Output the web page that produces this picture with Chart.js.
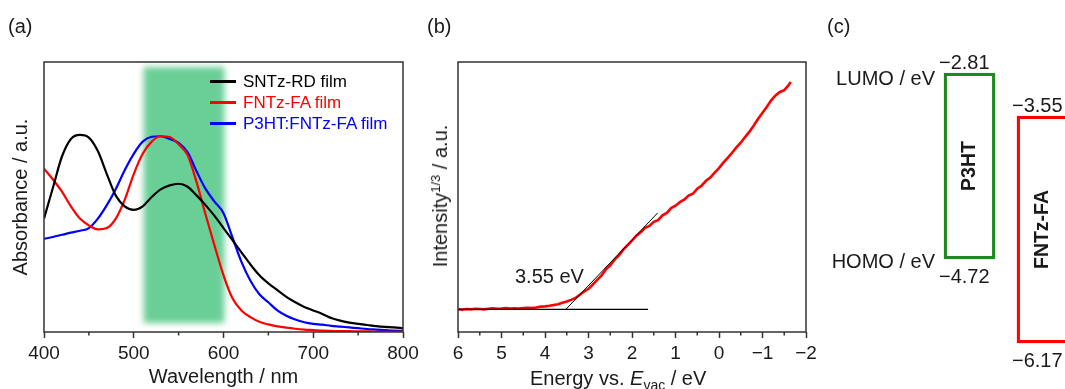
<!DOCTYPE html>
<html>
<head>
<meta charset="utf-8">
<script src="https://cdn.jsdelivr.net/npm/chart.js@4.4.1/dist/chart.umd.min.js"></script>
<style>
html, body { margin: 0; padding: 0; background: #fff; overflow: hidden; width: 1065px; height: 389px; }
body { position: relative; font-family: "Liberation Sans", Arial, sans-serif; color: #1a1a1a; }
canvas { position: absolute; top: 0; }
.txt { position: absolute; font-size: 20px; line-height: 20px; white-space: nowrap; }
.rot { transform: translate(-50%, -50%) rotate(-90deg); }
sup { font-size: 13px; line-height: 0; vertical-align: 7px; }
sub { font-size: 14px; line-height: 0; vertical-align: -5px; }
#legendA { position: absolute; left: 210px; top: 71px; font-size: 17px; }
#legendA div { height: 21px; display: flex; align-items: center; white-space: nowrap; }
#legendA span.sw { display: inline-block; width: 26px; height: 3px; margin-right: 7px; }
</style>
</head>
<body>
<canvas id="chartA" width="430" height="389" style="left:0px"></canvas>
<canvas id="chartB" width="420" height="389" style="left:410px"></canvas>
<canvas id="chartC" width="290" height="389" style="left:806px"></canvas>

<div class="txt" style="left:8px; top:16px">(a)</div>
<div class="txt" style="left:427px; top:16px">(b)</div>
<div class="txt" style="left:827px; top:16px">(c)</div>
<div id="legendA"></div>
<div class="txt rot" style="left:440px; top:196px">Intensity<sup>1/3</sup> / a.u.</div>
<div class="txt" style="left:530px; top:368px">Energy vs. <i>E</i><sub>vac</sub> / eV</div>
<div class="txt" style="left:515px; top:266px">3.55 eV</div>

<script>
"use strict";

/* (a) absorption spectra, normalised */
const wavelength = [400,410,420,430,440,450,460,470,480,490,500,510,520,530,540,550,560,570,580,590,
                    600,610,620,630,640,650,660,670,680,690,700,710,720,730,740,750,760,770,780,790,800];
const absSNTz = [0.42,0.535,0.65,0.715,0.73,0.72,0.67,0.585,0.505,0.465,0.452,0.465,0.50,0.528,0.543,0.549,0.538,0.506,0.47,0.43,
                 0.385,0.34,0.295,0.25,0.21,0.18,0.155,0.13,0.11,0.093,0.08,0.067,0.052,0.042,0.035,0.03,0.026,0.022,0.019,0.017,0.014];
const absFNTz = [0.605,0.565,0.52,0.465,0.42,0.395,0.38,0.385,0.42,0.49,0.585,0.66,0.705,0.725,0.722,0.695,0.655,0.555,0.435,0.32,
                 0.21,0.125,0.08,0.055,0.038,0.028,0.021,0.016,0.012,0.009,0.007,0.005,0.004,0.003,0.003,0.002,0.002,0.001,0.001,0.001,0.001];
const absBlend = [0.345,0.352,0.36,0.368,0.375,0.385,0.42,0.47,0.53,0.60,0.66,0.705,0.723,0.725,0.715,0.70,0.665,0.595,0.53,0.483,
                  0.44,0.35,0.26,0.19,0.14,0.11,0.08,0.06,0.046,0.036,0.03,0.027,0.023,0.02,0.017,0.014,0.011,0.009,0.007,0.005,0.004];
const seriesNames = ["SNTz-RD film", "FNTz-FA film", "P3HT:FNTz-FA film"];
const seriesColors = ["#000000", "#ff0000", "#0000ff"];
const bandRange = [511, 601];   // nm, shaded region

/* (b) photoelectron yield spectrum */
const energyEV = [6.0,5.9,5.8,5.7,5.6,5.5,5.4,5.3,5.2,5.1,5.0,4.9,4.8,4.7,4.6,4.5,4.4,4.3,4.2,4.1,
                  4.0,3.9,3.8,3.7,3.6,3.5,3.4,3.3,3.2,3.1,3.0,2.9,2.8,2.7,2.6,2.5,2.4,2.3,2.2,2.1,
                  2.0,1.9,1.8,1.7,1.6,1.5,1.4,1.3,1.2,1.1,1.0,0.9,0.8,0.7,0.6,0.5,0.4,0.3,0.2,0.1,
                  0.0,-0.1,-0.2,-0.3,-0.4,-0.5,-0.6,-0.7,-0.8,-0.9,-1.0,-1.1,-1.2,-1.3,-1.4,-1.5,-1.6,-1.65];
const intensity = [0.084,0.083,0.085,0.084,0.086,0.085,0.084,0.086,0.088,0.086,0.087,0.089,0.087,0.088,0.087,0.089,0.090,0.089,0.091,0.094,
                   0.095,0.097,0.100,0.103,0.108,0.113,0.119,0.126,0.138,0.150,0.160,0.176,0.193,0.210,0.232,0.247,0.268,0.284,0.305,0.322,
                   0.338,0.357,0.369,0.386,0.393,0.408,0.414,0.432,0.441,0.459,0.468,0.481,0.490,0.505,0.512,0.531,0.542,0.560,0.572,0.590,
                   0.607,0.627,0.645,0.664,0.684,0.701,0.722,0.742,0.765,0.790,0.812,0.834,0.858,0.876,0.889,0.896,0.914,0.926];
const baselineE = [6.0, 1.63];
const baselineI = [0.084, 0.084];
const tangentE = [3.52, 1.41];
const tangentI = [0.084, 0.441];

/* (c) energy levels */
const materials = ["P3HT", "FNTz-FA"];
const lumo = [-2.81, -3.55];
const homo = [-4.72, -6.17];
const boxColors = ["#1c8a1c", "#ff0000"];

Chart.defaults.font.family = '"Liberation Sans", Arial, sans-serif';
Chart.defaults.color = "#1a1a1a";

const minus = v => v < 0 ? "\u2212" + Math.abs(v) : String(v);

// frame round the plot area + short minor ticks under the x axis
const frameTicks = {
    id: "frameTicks",
    afterDraw(chart, args, opts) {
        const {ctx, chartArea: a, scales: {x}} = chart;
        ctx.save();
        ctx.strokeStyle = "#333";
        ctx.lineWidth = 1.5;
        ctx.strokeRect(a.left, a.top, a.right - a.left, a.bottom - a.top);
        ctx.beginPath();
        for (let v = x.min; v <= x.max; v += opts.minor) {
            if (Math.abs(v % opts.major) < 1e-6) continue;
            const px = x.getPixelForValue(v);
            ctx.moveTo(px, a.bottom);
            ctx.lineTo(px, a.bottom + 3.5);
        }
        ctx.stroke();
        ctx.restore();
    }
};

const band = {
    id: "band",
    beforeDatasetsDraw(chart) {
        const {ctx, chartArea: a, scales: {x}} = chart;
        const x0 = x.getPixelForValue(bandRange[0]);
        const x1 = x.getPixelForValue(bandRange[1]);
        ctx.save();
        ctx.filter = "blur(3px)";
        ctx.fillStyle = "rgb(106,207,150)";
        ctx.fillRect(x0, a.top + 5, x1 - x0, a.bottom - a.top - 14);
        ctx.restore();
    }
};

const xy = (xs, ys) => xs.map((v, i) => ({x: v, y: ys[i]}));

/* panel (a) */
const absSeries = [absSNTz, absFNTz, absBlend];
new Chart(document.getElementById("chartA"), {
    type: "line",
    data: {
        datasets: absSeries.map((s, i) => ({
            label: seriesNames[i],
            data: xy(wavelength, s),
            borderColor: seriesColors[i],
            borderWidth: 2.2,
            pointRadius: 0,
            cubicInterpolationMode: "monotone"
        }))
    },
    options: {
        responsive: false, animation: false, devicePixelRatio: 1,
        layout: {padding: {top: 62, right: 27, left: 0, bottom: 0}},
        plugins: {legend: {display: false}, tooltip: {enabled: false}, frameTicks: {minor: 50, major: 100}},
        scales: {
            x: {
                type: "linear", min: 400, max: 800,
                afterFit: s => { s.height = 57; },
                ticks: {stepSize: 100, padding: 4, font: {size: 19}, maxRotation: 0, autoSkip: false},
                grid: {drawOnChartArea: false, drawTicks: true, tickLength: 6, tickColor: "#333", tickWidth: 1.5},
                border: {display: false},
                title: {display: true, text: "Wavelength / nm", font: {size: 20}, padding: {top: 0, bottom: 0}}
            },
            y: {
                min: 0, max: 1,
                afterFit: s => { s.width = 44; },
                ticks: {display: false},
                grid: {display: false},
                border: {display: false},
                title: {display: true, text: "Absorbance / a.u.", font: {size: 20}, padding: {top: 9, bottom: 0}}
            }
        }
    },
    plugins: [band, frameTicks]
});

let legendHtml = "";
seriesNames.forEach((n, i) => {
    legendHtml += '<div style="color:' + seriesColors[i] + '"><span class="sw" style="background:' +
                  seriesColors[i] + '"></span>' + n + "</div>";
});
document.getElementById("legendA").innerHTML = legendHtml;

/* panel (b) */
new Chart(document.getElementById("chartB"), {
    type: "line",
    data: {
        datasets: [
            {data: xy(tangentE, tangentI), borderColor: "#000", borderWidth: 1, pointRadius: 0},
            {data: xy(baselineE, baselineI), borderColor: "#000", borderWidth: 1.2, pointRadius: 0},
            {data: xy(energyEV, intensity), borderColor: "#ff0000", borderWidth: 2.6, pointRadius: 0}
        ]
    },
    options: {
        responsive: false, animation: false, devicePixelRatio: 1,
        layout: {padding: {top: 62, right: 24, left: 48, bottom: 0}},
        plugins: {legend: {display: false}, tooltip: {enabled: false}, frameTicks: {minor: 0.5, major: 1}},
        scales: {
            x: {
                type: "linear", min: -2, max: 6, reverse: true,
                afterFit: s => { s.height = 57; },
                ticks: {stepSize: 1, padding: 4, font: {size: 19}, maxRotation: 0, autoSkip: false, callback: minus},
                grid: {drawOnChartArea: false, drawTicks: true, tickLength: 6, tickColor: "#333", tickWidth: 1.5},
                border: {display: false}
            },
            y: {min: 0, max: 1, display: false}
        }
    },
    plugins: [frameTicks]
});

/* panel (c) */
const fmt = v => "\u2212" + Math.abs(v).toFixed(2);
const levelLabels = {
    id: "levelLabels",
    afterDatasetsDraw(chart) {
        const {ctx} = chart;
        ctx.save();
        ctx.fillStyle = "#1a1a1a";
        chart.data.datasets.forEach((ds, i) => {
            const bar = chart.getDatasetMeta(i).data[i];
            const {x, y, base, width} = bar.getProps(["x", "y", "base", "width"], true);
            const left = x - width / 2;
            const top = Math.min(y, base), bottom = Math.max(y, base);
            ctx.font = '20px "Liberation Sans", Arial, sans-serif';
            ctx.textAlign = "left";
            ctx.textBaseline = "alphabetic";
            ctx.fillText(fmt(lumo[i]), left - 5, top - 4);
            ctx.fillText(fmt(homo[i]), left - 5, bottom + 24);
            if (i === 0) {
                ctx.textAlign = "right";
                ctx.fillText("LUMO / eV", left - 9, top + 12);
                ctx.fillText("HOMO / eV", left - 9, bottom + 9);
            }
            ctx.save();
            ctx.translate(left + 25.5, (top + bottom) / 2);
            ctx.rotate(-Math.PI / 2);
            ctx.font = 'bold 19.5px "Liberation Sans", Arial, sans-serif';
            ctx.textAlign = "center";
            ctx.textBaseline = "middle";
            ctx.fillText(materials[i], 0, 0);
            ctx.restore();
        });
        ctx.restore();
    }
};

new Chart(document.getElementById("chartC"), {
    type: "bar",
    data: {
        labels: materials,
        datasets: materials.map((m, i) => ({
            label: m,
            data: materials.map((_, j) => j === i ? [lumo[i], homo[i]] : null),
            yAxisID: i === 0 ? "yP" : "yF",
            borderColor: boxColors[i],
            backgroundColor: "rgba(0,0,0,0)",
            borderWidth: 2.6,
            borderSkipped: false,
            barThickness: i === 0 ? 51 : 56,   // right box runs off the edge of the figure
            grouped: false
        }))
    },
    options: {
        responsive: false, animation: false, devicePixelRatio: 1,
        layout: {padding: {left: 125.75, right: 13.25, top: 0, bottom: 0}},
        plugins: {legend: {display: false}, tooltip: {enabled: false}},
        scales: {
            x: {display: false},
            // the schematic is not drawn to one scale, so each box has its own axis
            yP: {display: false, min: -6.055, max: -2.060},
            yF: {display: false, min: -6.701, max: -2.211}
        }
    },
    plugins: [levelLabels]
});
</script>
</body>
</html>
